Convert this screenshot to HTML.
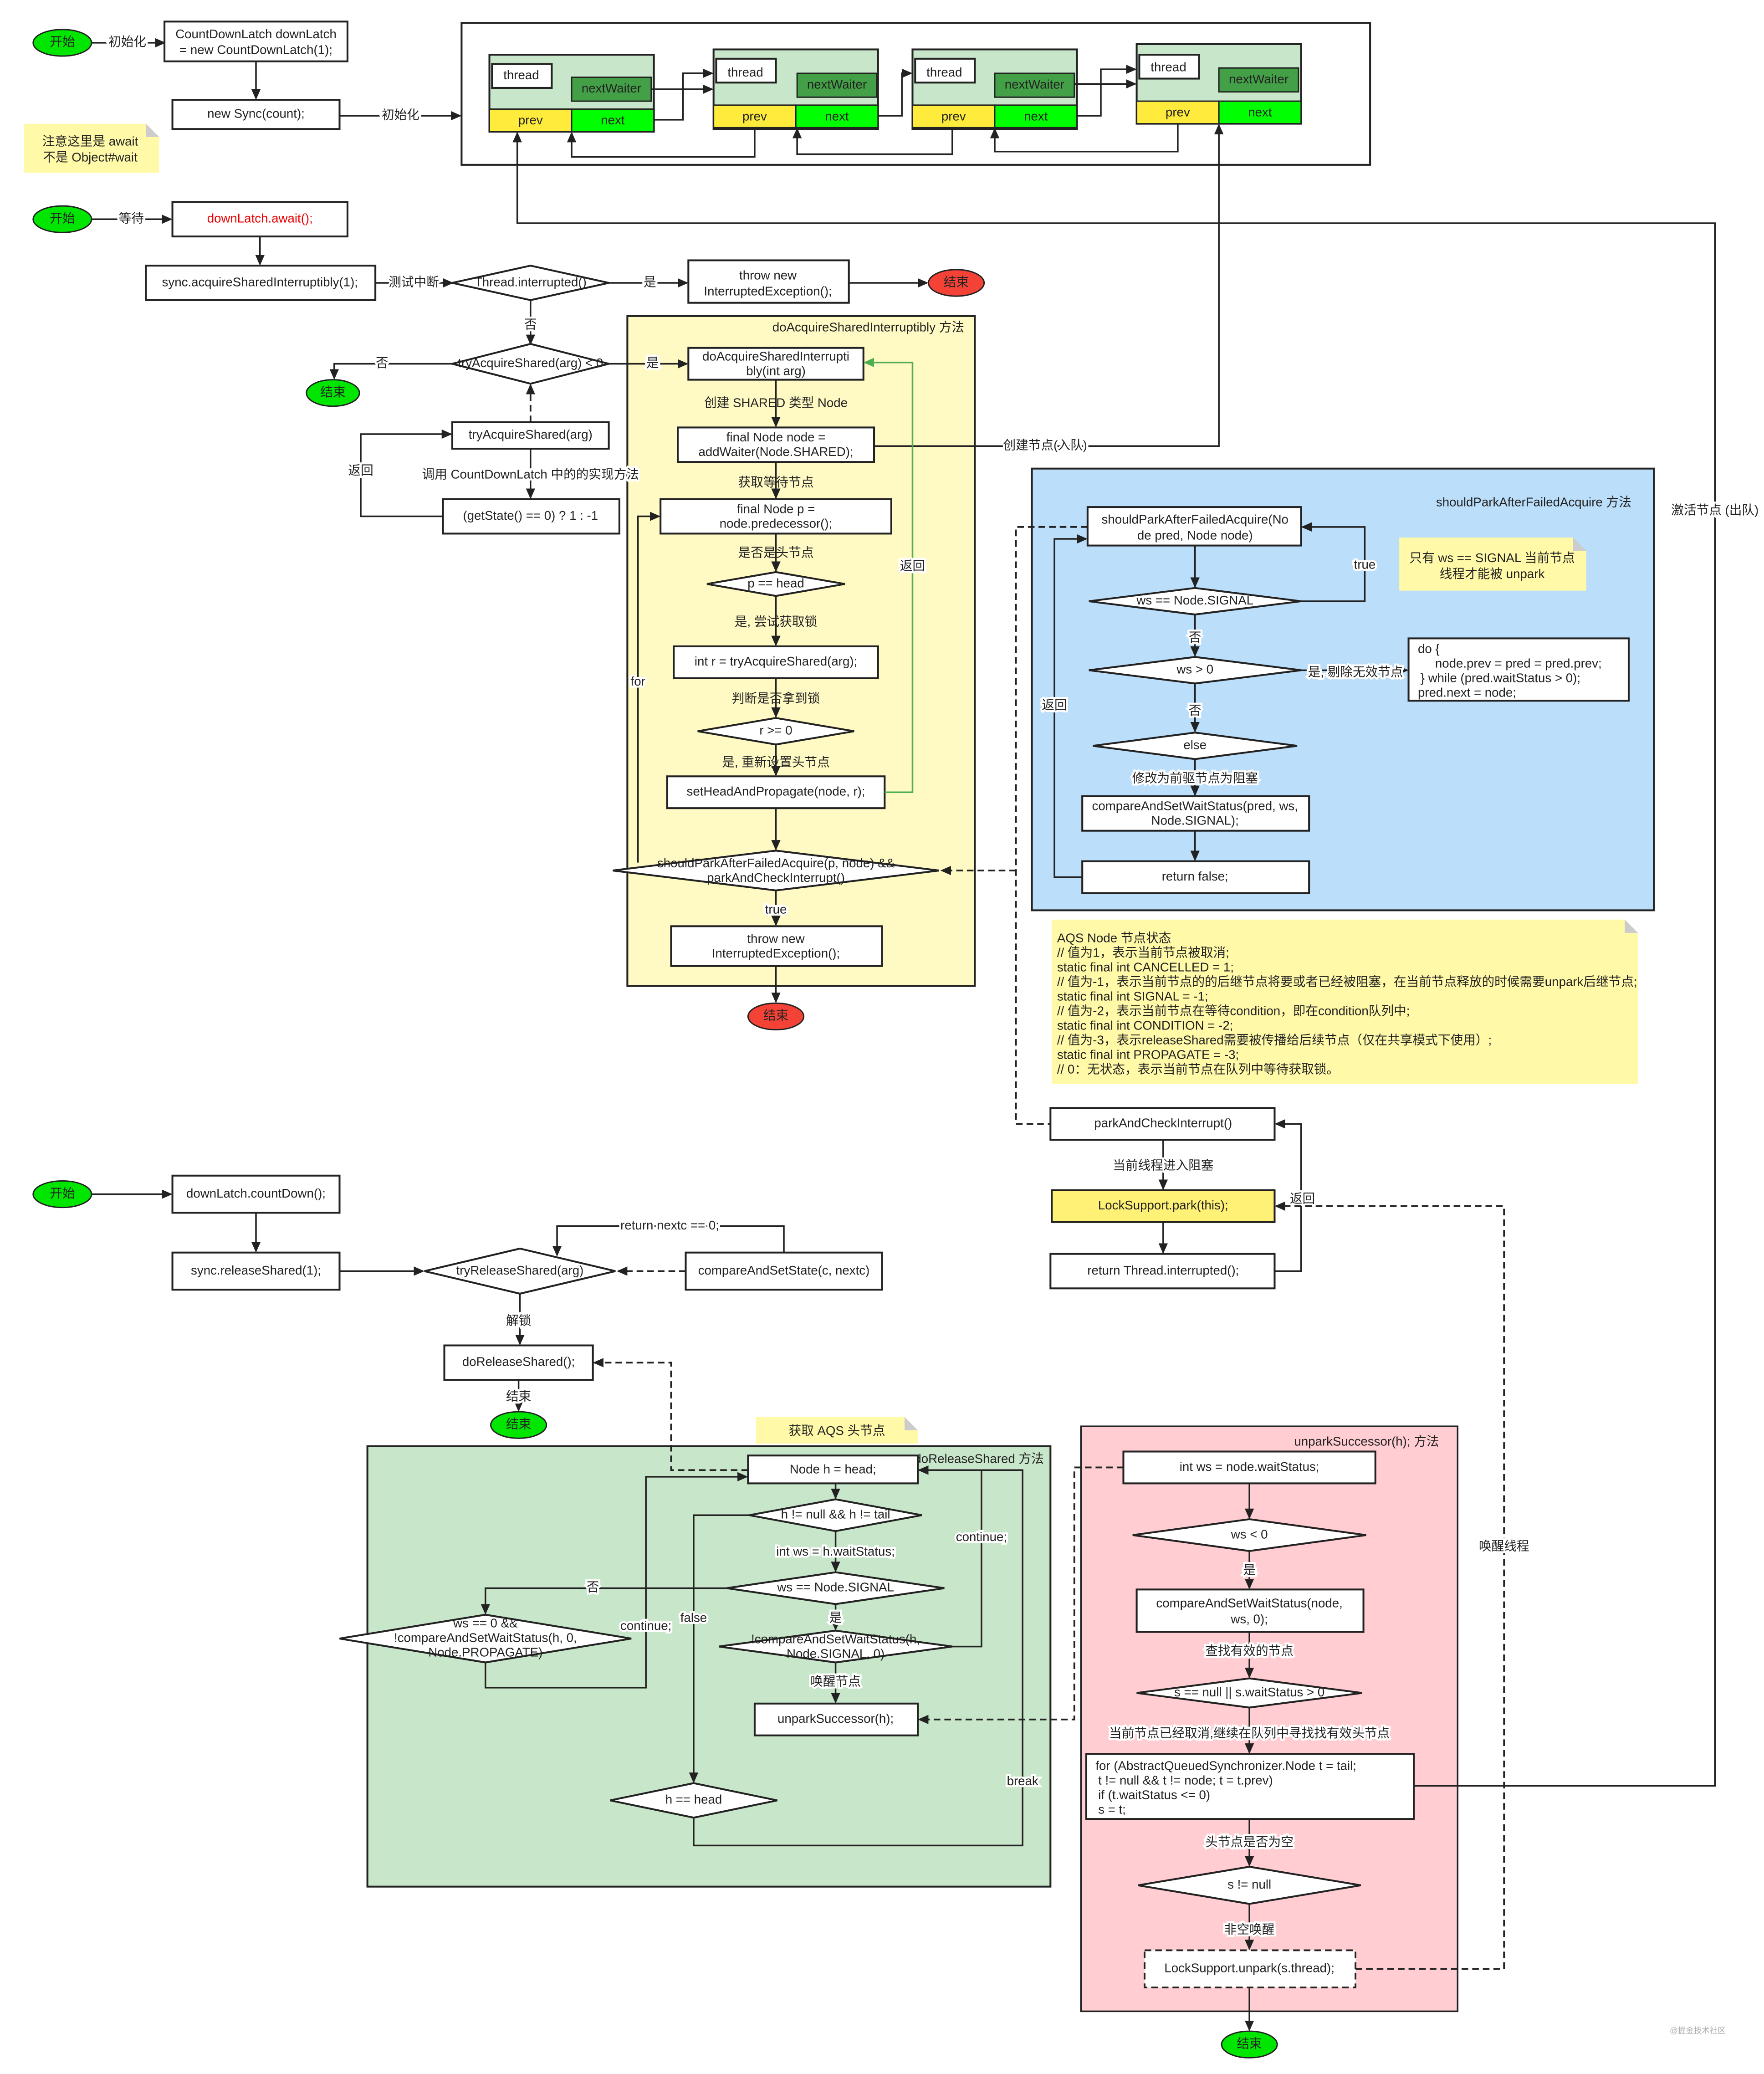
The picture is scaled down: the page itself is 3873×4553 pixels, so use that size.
<!DOCTYPE html>
<html><head><meta charset="utf-8"><style>
html,body{margin:0;padding:0;background:#fff;}
svg{display:block;}
text{font-family:"Liberation Sans","Noto Sans CJK SC",sans-serif;font-size:9.5px;fill:#222;}
.c{text-anchor:middle;dominant-baseline:middle;}
.b{fill:#fff;stroke:#222;stroke-width:1.4;}
.l{fill:none;stroke:#222;stroke-width:1.2;}
.d{fill:none;stroke:#222;stroke-width:1.3;stroke-dasharray:5,3;}
.lb{paint-order:stroke;stroke:#fff;stroke-width:3px;}
</style></head><body>
<svg width="3873" height="4553" viewBox="0 0 1330 1563" xmlns="http://www.w3.org/2000/svg">
<defs><marker id="a" markerWidth="8" markerHeight="8" refX="7" refY="4" orient="auto" markerUnits="userSpaceOnUse"><path d="M0,0.5 L8,4 L0,7.5 Z" fill="#222"/></marker>
<marker id="g" markerWidth="8" markerHeight="8" refX="7" refY="4" orient="auto" markerUnits="userSpaceOnUse"><path d="M0,0.5 L8,4 L0,7.5 Z" fill="#4caf50"/></marker></defs>
<rect width="1330" height="1563" fill="#fff"/>

<!-- containers -->
<rect x="473" y="238" width="262" height="505" fill="#fff9c4" stroke="#222" stroke-width="1.4"/>
<text x="727" y="247" class="c" style="text-anchor:end">doAcquireSharedInterruptibly 方法</text>
<rect x="778" y="353" width="469" height="333" fill="#bbdefb" stroke="#222" stroke-width="1.4"/>
<text x="1230" y="379" class="c" style="text-anchor:end">shouldParkAfterFailedAcquire 方法</text>
<rect x="277" y="1090" width="515" height="332" fill="#c8e6c9" stroke="#222" stroke-width="1.4"/>
<text x="787" y="1100" class="c" style="text-anchor:end">doReleaseShared 方法</text>
<rect x="815" y="1075" width="284" height="441" fill="#ffcdd2" stroke="#222" stroke-width="1.2"/>
<text x="1085" y="1087" class="c" style="text-anchor:end">unparkSuccessor(h); 方法</text>

<!-- notes -->
<path d="M18,93 H110 L120,103 V130 H18 Z" fill="#fff9a8"/><path d="M110,93 L120,103 H110Z" fill="#ccc"/>
<text x="68" y="107" class="c">注意这里是 await</text><text x="68" y="119" class="c">不是 Object#wait</text>
<path d="M1055,405 H1186 L1196,415 V445 H1055 Z" fill="#fff9a8"/><path d="M1186,405 L1196,415 H1186Z" fill="#ccc"/>
<text x="1125" y="421" class="c">只有 ws == SIGNAL 当前节点</text><text x="1125" y="433" class="c">线程才能被 unpark</text>
<path d="M793,693 H1225 L1235,703 V817 H793 Z" fill="#fff9a8"/><path d="M1225,693 L1235,703 H1225Z" fill="#ccc"/>
<g style="font-size:9px">
<text x="797" y="710">AQS Node 节点状态</text>
<text x="797" y="721">// 值为1，表示当前节点被取消;</text>
<text x="797" y="732">static final int CANCELLED = 1;</text>
<text x="797" y="743">// 值为-1，表示当前节点的的后继节点将要或者已经被阻塞，在当前节点释放的时候需要unpark后继节点;</text>
<text x="797" y="754">static final int SIGNAL = -1;</text>
<text x="797" y="765">// 值为-2，表示当前节点在等待condition，即在condition队列中;</text>
<text x="797" y="776">static final int CONDITION = -2;</text>
<text x="797" y="787">// 值为-3，表示releaseShared需要被传播给后续节点（仅在共享模式下使用）;</text>
<text x="797" y="798">static final int PROPAGATE = -3;</text>
<text x="797" y="809">// 0：无状态，表示当前节点在队列中等待获取锁。</text>
</g>
<path d="M570,1068 H682 L692,1078 V1088 H570 Z" fill="#fff9a8"/><path d="M682,1068 L692,1078 H682Z" fill="#ccc"/>
<text x="631" y="1079" class="c">获取 AQS 头节点</text>

<!-- top section -->
<ellipse cx="47" cy="32" rx="22" ry="10" fill="#00e600" stroke="#222"/><text x="47" y="32" class="c">开始</text>
<path class="l" d="M69,32 H124" marker-end="url(#a)"/><text x="96" y="32" class="c lb">初始化</text>
<rect class="b" x="124" y="16" width="138" height="30"/><text x="193" y="26" class="c">CountDownLatch downLatch</text><text x="193" y="38" class="c">= new CountDownLatch(1);</text>
<path class="l" d="M193,46 V74" marker-end="url(#a)"/>
<rect class="b" x="130" y="75" width="126" height="22"/><text x="193" y="86" class="c">new Sync(count);</text>
<path class="l" d="M256,87 H347" marker-end="url(#a)"/><text x="302" y="87" class="c lb">初始化</text>
<rect x="348" y="17" width="685" height="107" fill="#fff" stroke="#222" stroke-width="1.4"/>

<g>
<rect x="369" y="41" width="124" height="58" fill="#c8e6c9" stroke="#222" stroke-width="1.4"/>
<rect x="371" y="48" width="45" height="18" class="b"/><text x="393" y="57" class="c">thread</text>
<rect x="431" y="58" width="60" height="18" fill="#43a047" stroke="#222"/><text x="461" y="67" class="c">nextWaiter</text>
<rect x="369" y="82" width="62" height="17" fill="#ffeb3b" stroke="#222"/><text x="400" y="91" class="c">prev</text>
<rect x="431" y="82" width="62" height="17" fill="#00ff00" stroke="#222"/><text x="462" y="91" class="c">next</text>
</g>
<g>
<rect x="538" y="37" width="124" height="60" fill="#c8e6c9" stroke="#222" stroke-width="1.4"/>
<rect x="540" y="44" width="45" height="18" class="b"/><text x="562" y="55" class="c">thread</text>
<rect x="601" y="55" width="60" height="18" fill="#43a047" stroke="#222"/><text x="631" y="64" class="c">nextWaiter</text>
<rect x="538" y="79" width="62" height="17" fill="#ffeb3b" stroke="#222"/><text x="569" y="88" class="c">prev</text>
<rect x="600" y="79" width="62" height="17" fill="#00ff00" stroke="#222"/><text x="631" y="88" class="c">next</text>
</g>
<g>
<rect x="688" y="37" width="124" height="60" fill="#c8e6c9" stroke="#222" stroke-width="1.4"/>
<rect x="690" y="44" width="45" height="18" class="b"/><text x="712" y="55" class="c">thread</text>
<rect x="750" y="55" width="60" height="18" fill="#43a047" stroke="#222"/><text x="780" y="64" class="c">nextWaiter</text>
<rect x="688" y="79" width="62" height="17" fill="#ffeb3b" stroke="#222"/><text x="719" y="88" class="c">prev</text>
<rect x="750" y="79" width="62" height="17" fill="#00ff00" stroke="#222"/><text x="781" y="88" class="c">next</text>
</g>
<g>
<rect x="857" y="33" width="124" height="60" fill="#c8e6c9" stroke="#222" stroke-width="1.4"/>
<rect x="859" y="41" width="45" height="18" class="b"/><text x="881" y="51" class="c">thread</text>
<rect x="919" y="51" width="60" height="18" fill="#43a047" stroke="#222"/><text x="949" y="60" class="c">nextWaiter</text>
<rect x="857" y="76" width="62" height="17" fill="#ffeb3b" stroke="#222"/><text x="888" y="85" class="c">prev</text>
<rect x="919" y="76" width="62" height="17" fill="#00ff00" stroke="#222"/><text x="950" y="85" class="c">next</text>
</g>
<path class="l" d="M493,90 H515 V55 H537" marker-end="url(#a)"/>
<path class="l" d="M491,67 H537" marker-end="url(#a)"/>
<path class="l" d="M662,87 H680 V55 H687" marker-end="url(#a)"/>
<path class="l" d="M812,87 H830 V52 H856" marker-end="url(#a)"/>
<path class="l" d="M810,63 H856" marker-end="url(#a)"/>
<path class="l" d="M569,96 V118 H431 V100" marker-end="url(#a)"/>
<path class="l" d="M718,96 V116 H601 V97" marker-end="url(#a)"/>
<path class="l" d="M888,93 V114 H750 V97" marker-end="url(#a)"/>
<path class="l" d="M1066,1346 H1293 V168 H390 V100" marker-end="url(#a)"/>
<text x="1293" y="385" class="c lb">激活节点 (出队)</text>
<path class="l" d="M659,336 H919 V94" marker-end="url(#a)"/>
<text x="788" y="336" class="c lb">创建节点(入队)</text>

<!-- second section -->
<ellipse cx="47" cy="165" rx="22" ry="10" fill="#00e600" stroke="#222"/><text x="47" y="165" class="c">开始</text>
<path class="l" d="M69,165 H129" marker-end="url(#a)"/><text x="99" y="165" class="c lb">等待</text>
<rect class="b" x="130" y="152" width="132" height="26"/><text x="196" y="165" class="c" style="fill:#e00">downLatch.await();</text>
<path class="l" d="M196,178 V199" marker-end="url(#a)"/>
<rect class="b" x="110" y="200" width="173" height="26"/><text x="196" y="213" class="c">sync.acquireSharedInterruptibly(1);</text>
<path class="l" d="M283,213 H341" marker-end="url(#a)"/><text x="312" y="213" class="c lb">测试中断</text>
<polygon class="b" points="341,213 400,200 459,213 400,226"/><text x="400" y="213" class="c">Thread.interrupted()</text>
<path class="l" d="M459,213 H518" marker-end="url(#a)"/><text x="490" y="213" class="c lb">是</text>
<rect class="b" x="519" y="196" width="121" height="32"/><text x="579" y="208" class="c">throw new</text><text x="579" y="220" class="c">InterruptedException();</text>
<path class="l" d="M640,213 H699" marker-end="url(#a)"/>
<ellipse cx="721" cy="213" rx="21" ry="10" fill="#f44336" stroke="#222"/><text x="721" y="213" class="c">结束</text>
<path class="l" d="M400,226 V259" marker-end="url(#a)"/><text x="400" y="245" class="c lb">否</text>
<polygon class="b" points="341,274 400,259 459,274 400,289"/><text x="400" y="274" class="c">tryAcquireShared(arg) &lt; 0</text>
<path class="l" d="M341,274 H252 V285" marker-end="url(#a)"/><text x="288" y="274" class="c lb">否</text>
<ellipse cx="251" cy="296" rx="20" ry="10" fill="#00e600" stroke="#222"/><text x="251" y="296" class="c">结束</text>
<path class="l" d="M459,274 H518" marker-end="url(#a)"/><text x="492" y="274" class="c lb">是</text>
<path class="d" d="M400,318 V290" marker-end="url(#a)"/>
<rect class="b" x="341" y="318" width="118" height="20"/><text x="400" y="328" class="c">tryAcquireShared(arg)</text>
<path class="l" d="M400,338 V375" marker-end="url(#a)"/><text x="400" y="358" class="c lb">调用 CountDownLatch 中的的实现方法</text>
<rect class="b" x="334" y="376" width="133" height="26"/><text x="400" y="389" class="c">(getState() == 0) ? 1 : -1</text>
<path class="l" d="M334,389 H272 V327 H340" marker-end="url(#a)"/><text x="272" y="355" class="c lb">返回</text>

<!-- doAcquire -->
<rect class="b" x="519" y="262" width="132" height="24"/><text x="585" y="269" class="c">doAcquireSharedInterrupti</text><text x="585" y="280" class="c">bly(int arg)</text>
<path class="l" d="M585,286 V321" marker-end="url(#a)"/><text x="585" y="304" class="c">创建 SHARED 类型 Node</text>
<rect class="b" x="511" y="322" width="148" height="26"/><text x="585" y="330" class="c">final Node node =</text><text x="585" y="341" class="c">addWaiter(Node.SHARED);</text>
<path class="l" d="M585,348 V375" marker-end="url(#a)"/><text x="585" y="364" class="c">获取等待节点</text>
<rect class="b" x="498" y="376" width="174" height="26"/><text x="585" y="384" class="c">final Node p =</text><text x="585" y="395" class="c">node.predecessor();</text>
<path class="l" d="M585,402 V430" marker-end="url(#a)"/><text x="585" y="417" class="c">是否是头节点</text>
<polygon class="b" points="533,440 585,431 637,440 585,449"/><text x="585" y="440" class="c">p == head</text>
<path class="l" d="M585,449 V486" marker-end="url(#a)"/><text x="585" y="469" class="c">是, 尝试获取锁</text>
<rect class="b" x="508" y="487" width="154" height="24"/><text x="585" y="499" class="c">int r = tryAcquireShared(arg);</text>
<path class="l" d="M585,511 V540" marker-end="url(#a)"/><text x="585" y="527" class="c">判断是否拿到锁</text>
<polygon class="b" points="526,551 585,541 644,551 585,561"/><text x="585" y="551" class="c">r &gt;= 0</text>
<path class="l" d="M585,561 V584" marker-end="url(#a)"/><text x="585" y="575" class="c">是, 重新设置头节点</text>
<rect class="b" x="503" y="585" width="164" height="24"/><text x="585" y="597" class="c">setHeadAndPropagate(node, r);</text>
<path d="M667,597 H688 V273 H652" fill="none" stroke="#4caf50" stroke-width="1.2" marker-end="url(#g)"/>
<text x="688" y="427" class="c lb">返回</text>
<path class="l" d="M585,609 V640" marker-end="url(#a)"/>
<polygon class="b" points="462,656 585,641 708,656 585,671"/>
<text x="585" y="651" class="c">shouldParkAfterFailedAcquire(p, node) &amp;&amp;</text><text x="585" y="662" class="c">parkAndCheckInterrupt()</text>
<path class="l" d="M481,650 V389 H497" marker-end="url(#a)"/><text x="481" y="514" class="c lb">for</text>
<path class="l" d="M585,671 V697" marker-end="url(#a)"/><text x="585" y="686" class="c lb">true</text>
<rect class="b" x="506" y="698" width="159" height="30"/><text x="585" y="708" class="c">throw new</text><text x="585" y="719" class="c">InterruptedException();</text>
<path class="l" d="M585,728 V755" marker-end="url(#a)"/>
<ellipse cx="585" cy="766" rx="21" ry="10" fill="#f44336" stroke="#222"/><text x="585" y="766" class="c">结束</text>
<path class="d" d="M820,397 H766 V847 H792"/>
<path class="d" d="M766,656 H710" marker-end="url(#a)"/>

<!-- shouldPark -->
<rect class="b" x="820" y="382" width="161" height="29"/><text x="901" y="392" class="c">shouldParkAfterFailedAcquire(No</text><text x="901" y="404" class="c">de pred, Node node)</text>
<path class="l" d="M901,411 V442" marker-end="url(#a)"/>
<polygon class="b" points="821,453 901,443 981,453 901,463"/><text x="901" y="453" class="c">ws == Node.SIGNAL</text>
<path class="l" d="M981,453 H1029 V397 H982" marker-end="url(#a)"/><text x="1029" y="426" class="c lb">true</text>
<path class="l" d="M901,463 V494" marker-end="url(#a)"/><text x="901" y="481" class="c lb">否</text>
<polygon class="b" points="821,505 901,495 981,505 901,515"/><text x="901" y="505" class="c">ws &gt; 0</text>
<path class="l" d="M981,505 H1061" marker-end="url(#a)"/><text x="1022" y="507" class="c lb">是, 剔除无效节点</text>
<rect class="b" x="1062" y="481" width="166" height="47"/>
<text x="1069" y="492">do {</text><text x="1082" y="503">node.prev = pred = pred.prev;</text><text x="1071" y="514">} while (pred.waitStatus &gt; 0);</text><text x="1069" y="525">pred.next = node;</text>
<path class="l" d="M901,515 V551" marker-end="url(#a)"/><text x="901" y="536" class="c lb">否</text>
<polygon class="b" points="824,562 901,552 978,562 901,572"/><text x="901" y="562" class="c">else</text>
<path class="l" d="M901,572 V599" marker-end="url(#a)"/><text x="901" y="587" class="c lb">修改为前驱节点为阻塞</text>
<rect class="b" x="816" y="600" width="171" height="26"/><text x="901" y="608" class="c">compareAndSetWaitStatus(pred, ws,</text><text x="901" y="619" class="c">Node.SIGNAL);</text>
<path class="l" d="M901,626 V648" marker-end="url(#a)"/>
<rect class="b" x="816" y="649" width="171" height="24"/><text x="901" y="661" class="c">return false;</text>
<path class="l" d="M816,661 H795 V406 H819" marker-end="url(#a)"/><text x="795" y="532" class="c lb">返回</text>

<!-- park -->
<rect class="b" x="792" y="835" width="169" height="24"/><text x="877" y="847" class="c">parkAndCheckInterrupt()</text>
<path class="l" d="M877,859 V896" marker-end="url(#a)"/><text x="877" y="879" class="c lb">当前线程进入阻塞</text>
<rect x="793" y="897" width="168" height="24" fill="#fff176" stroke="#222" stroke-width="1.4"/><text x="877" y="909" class="c">LockSupport.park(this);</text>
<path class="l" d="M877,921 V944" marker-end="url(#a)"/>
<rect class="b" x="792" y="945" width="169" height="26"/><text x="877" y="958" class="c">return Thread.interrupted();</text>
<path class="l" d="M961,958 H981 V847 H962" marker-end="url(#a)"/><text x="982" y="904" class="c lb">返回</text>
<path class="d" d="M1022,1484 H1134 V909 H962" marker-end="url(#a)"/>
<text x="1134" y="1166" class="c lb">唤醒线程</text>

<!-- third section -->
<ellipse cx="47" cy="900" rx="22" ry="10" fill="#00e600" stroke="#222"/><text x="47" y="900" class="c">开始</text>
<path class="l" d="M69,900 H129" marker-end="url(#a)"/>
<rect class="b" x="130" y="886" width="126" height="28"/><text x="193" y="900" class="c">downLatch.countDown();</text>
<path class="l" d="M193,914 V943" marker-end="url(#a)"/>
<rect class="b" x="130" y="944" width="126" height="28"/><text x="193" y="958" class="c">sync.releaseShared(1);</text>
<path class="l" d="M256,958 H319" marker-end="url(#a)"/>
<polygon class="b" points="320,958 392,941 464,958 392,975"/><text x="392" y="958" class="c">tryReleaseShared(arg)</text>
<rect class="b" x="517" y="944" width="148" height="28"/><text x="591" y="958" class="c">compareAndSetState(c, nextc)</text>
<path class="d" d="M517,958 H466" marker-end="url(#a)"/>
<path class="l" d="M591,944 V924 H420 V946" marker-end="url(#a)"/><text x="505" y="924" class="c lb">return nextc == 0;</text>
<path class="l" d="M392,975 V1013" marker-end="url(#a)"/><text x="391" y="996" class="c lb">解锁</text>
<rect class="b" x="335" y="1014" width="112" height="26"/><text x="391" y="1027" class="c">doReleaseShared();</text>
<path class="l" d="M391,1040 V1063" marker-end="url(#a)"/><text x="391" y="1053" class="c lb">结束</text>
<ellipse cx="391" cy="1074" rx="21" ry="10" fill="#00e600" stroke="#222"/><text x="391" y="1074" class="c">结束</text>
<path class="d" d="M564,1108 H506 V1027 H448" marker-end="url(#a)"/>

<!-- doReleaseShared -->
<rect class="b" x="564" y="1097" width="128" height="21"/><text x="628" y="1108" class="c">Node h = head;</text>
<path class="l" d="M630,1118 V1129" marker-end="url(#a)"/>
<polygon class="b" points="565,1142 630,1130 695,1142 630,1154"/><text x="630" y="1142" class="c">h != null &amp;&amp; h != tail</text>
<path class="l" d="M630,1154 V1184" marker-end="url(#a)"/><text x="630" y="1170" class="c lb">int ws = h.waitStatus;</text>
<polygon class="b" points="548,1197 630,1185 712,1197 630,1209"/><text x="630" y="1197" class="c">ws == Node.SIGNAL</text>
<path class="l" d="M548,1197 H366 V1216" marker-end="url(#a)"/><text x="447" y="1197" class="c lb">否</text>
<polygon class="b" points="256,1235 366,1217 476,1235 366,1253"/>
<text x="366" y="1224" class="c">ws == 0 &amp;&amp;</text><text x="366" y="1235" class="c">!compareAndSetWaitStatus(h, 0,</text><text x="366" y="1246" class="c">Node.PROPAGATE)</text>
<path class="l" d="M366,1253 V1272 H487 V1113 H563" marker-end="url(#a)"/><text x="487" y="1226" class="c lb">continue;</text>
<path class="l" d="M630,1209 V1228" marker-end="url(#a)"/><text x="630" y="1220" class="c lb">是</text>
<polygon class="b" points="542,1241 630,1229 718,1241 630,1253"/><text x="630" y="1236" class="c">!compareAndSetWaitStatus(h,</text><text x="630" y="1247" class="c">Node.SIGNAL, 0)</text>
<path class="l" d="M718,1241 H740 V1108 H693" marker-end="url(#a)"/><text x="740" y="1159" class="c lb">continue;</text>
<path class="l" d="M630,1253 V1283" marker-end="url(#a)"/><text x="630" y="1268" class="c lb">唤醒节点</text>
<rect class="b" x="569" y="1284" width="123" height="24"/><text x="630" y="1296" class="c">unparkSuccessor(h);</text>
<path class="d" d="M847,1106 H810 V1296 H693" marker-end="url(#a)"/>
<path class="l" d="M565,1142 H523 V1343" marker-end="url(#a)"/><text x="523" y="1220" class="c lb">false</text>
<polygon class="b" points="460,1357 523,1344 586,1357 523,1370"/><text x="523" y="1357" class="c">h == head</text>
<path class="l" d="M523,1370 V1391 H771 V1108 H693" marker-end="url(#a)"/><text x="771" y="1343" class="c lb">break</text>

<!-- unparkSuccessor -->
<rect class="b" x="847" y="1094" width="190" height="24"/><text x="942" y="1106" class="c">int ws = node.waitStatus;</text>
<path class="l" d="M942,1118 V1144" marker-end="url(#a)"/>
<polygon class="b" points="854,1157 942,1145 1030,1157 942,1169"/><text x="942" y="1157" class="c">ws &lt; 0</text>
<path class="l" d="M942,1169 V1197" marker-end="url(#a)"/><text x="942" y="1184" class="c lb">是</text>
<rect class="b" x="857" y="1198" width="171" height="32"/><text x="942" y="1209" class="c">compareAndSetWaitStatus(node,</text><text x="942" y="1221" class="c">ws, 0);</text>
<path class="l" d="M942,1230 V1264" marker-end="url(#a)"/><text x="942" y="1245" class="c lb">查找有效的节点</text>
<polygon class="b" points="857,1276 942,1265 1027,1276 942,1287"/><text x="942" y="1276" class="c">s == null || s.waitStatus &gt; 0</text>
<path class="l" d="M942,1287 V1321" marker-end="url(#a)"/><text x="942" y="1307" class="c lb">当前节点已经取消,继续在队列中寻找找有效头节点</text>
<rect class="b" x="819" y="1322" width="247" height="49"/>
<text x="826" y="1334">for (AbstractQueuedSynchronizer.Node t = tail;</text><text x="828" y="1345">t != null &amp;&amp; t != node; t = t.prev)</text><text x="828" y="1356">if (t.waitStatus &lt;= 0)</text><text x="828" y="1367">s = t;</text>
<path class="l" d="M942,1371 V1406" marker-end="url(#a)"/><text x="942" y="1389" class="c lb">头节点是否为空</text>
<polygon class="b" points="858,1421 942,1407 1026,1421 942,1435"/><text x="942" y="1421" class="c">s != null</text>
<path class="l" d="M942,1435 V1469" marker-end="url(#a)"/><text x="942" y="1455" class="c lb">非空唤醒</text>
<rect x="863" y="1470" width="159" height="28" fill="#fff" stroke="#222" stroke-width="1.3" stroke-dasharray="5,3"/><text x="942" y="1484" class="c">LockSupport.unpark(s.thread);</text>
<path class="l" d="M942,1498 V1530" marker-end="url(#a)"/>
<ellipse cx="942" cy="1541" rx="21" ry="10" fill="#00e600" stroke="#222"/><text x="942" y="1541" class="c">结束</text>
<text x="1280" y="1531" class="c" style="font-size:6px;fill:#aaa">@掘金技术社区</text>
</svg>
</body></html>
